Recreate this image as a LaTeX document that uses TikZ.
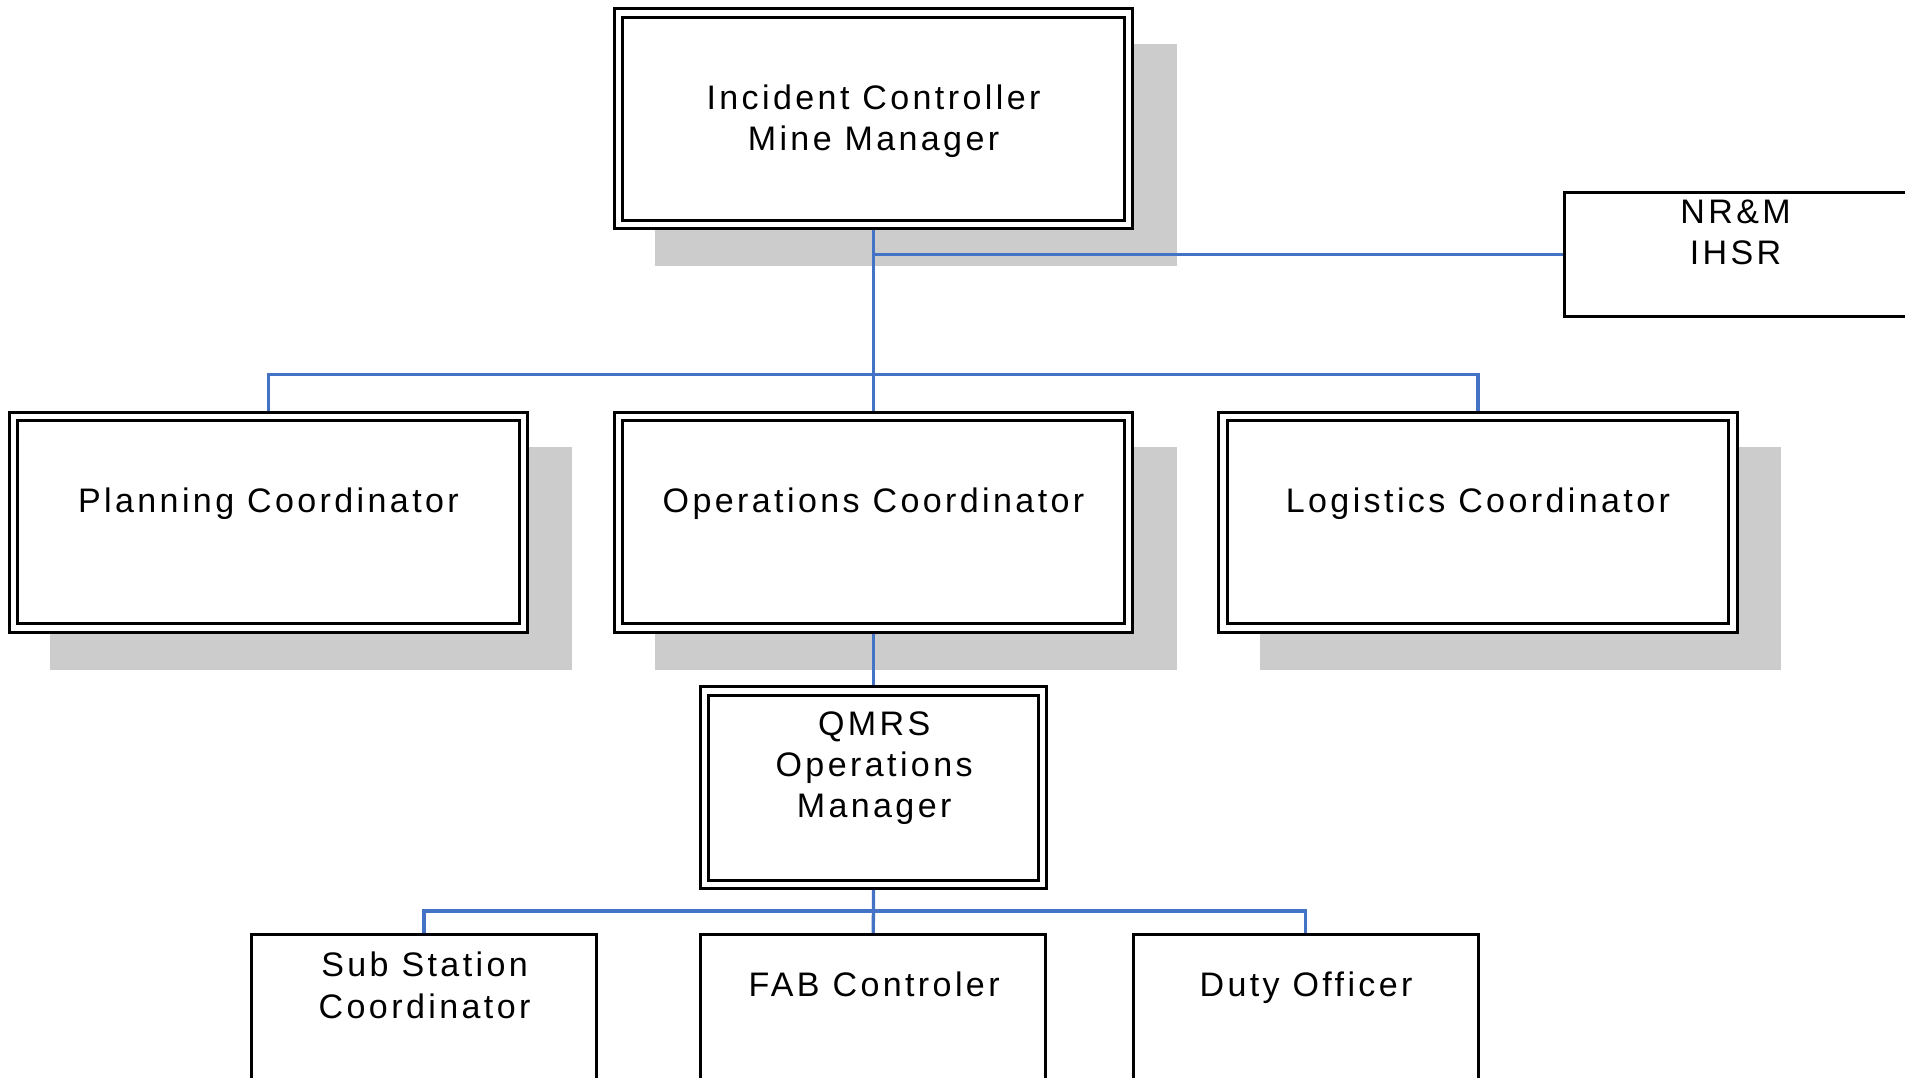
\documentclass[tikz,border=0pt]{standalone}
\usepackage{fontspec}
\setmainfont{Liberation Sans}[LetterSpace=10]
\pgfdeclarelayer{shadowlayer}
\pgfdeclarelayer{linelayer}
\pgfsetlayers{shadowlayer,linelayer,main}
\definecolor{connblue}{HTML}{4472C4}
\definecolor{shadowgray}{HTML}{CCCCCC}
\begin{document}
\begin{tikzpicture}[x=1pt,y=-1pt,
  dbox/.style={draw=black,fill=white,line width=2.5pt,double=white,double distance=4.4pt,outer sep=0pt,inner sep=0pt},
  sbox/.style={draw=black,fill=white,line width=2.5pt,outer sep=0pt,inner sep=0pt},
  conn/.style={draw=connblue,line width=2.7pt},
  lbl/.style={anchor=base,inner sep=0pt,font=\fontsize{28}{34}\selectfont}]
\useasboundingbox (0,0) rectangle (1568,886.5);

% boxes
\node[dbox,minimum width=420pt,minimum height=174pt] (ic) at (719,97.8) {};
\node[sbox,minimum width=282pt,minimum height=102pt] (nr) at (1428.5,209.2) {};
\node[dbox,minimum width=420pt,minimum height=174pt] (pc) at (221,429.8) {};
\node[dbox,minimum width=420pt,minimum height=174pt] (oc) at (719,429.8) {};
\node[dbox,minimum width=420pt,minimum height=174pt] (lc) at (1216.5,429.8) {};
\node[dbox,minimum width=278pt,minimum height=159pt] (qm) at (719,648.3) {};
\node[sbox,minimum width=284pt,minimum height=200pt] (sub) at (349,868.8) {};
\node[sbox,minimum width=284pt,minimum height=200pt] (fab) at (718.8,868.8) {};
\node[sbox,minimum width=284pt,minimum height=200pt] (duty) at (1074.7,868.8) {};

% shadows
\begin{pgfonlayer}{shadowlayer}
\foreach \n in {ic,pc,oc,lc}
  \fill[shadowgray] ([xshift=30.5pt,yshift=-25.5pt]\n.north west) rectangle ([xshift=39.5pt,yshift=-34.5pt]\n.south east);
\end{pgfonlayer}

% connectors
\coordinate (j1) at (719,308.5);
\coordinate (j2) at (719,749.8);
\begin{pgfonlayer}{linelayer}
\draw[conn] (ic.south) -- (oc.north);
\draw[conn] (ic.south |- nr.west) -- (nr.west);
\draw[conn] (pc.north) |- (j1) -| (lc.north);
\draw[conn] (oc.south) -- (qm.north);
\draw[conn] (qm.south) -- (fab.north);
\draw[conn] (sub.north) |- (j2) -| (duty.north);
\end{pgfonlayer}

% labels
\node[lbl] (ic1) at (719,90) {Incident Controller};
\node[lbl] (ic2) at (719,123.5) {Mine Manager};
\node[lbl] (nr1) at (1428.5,184) {NR\&M};
\node[lbl] (nr2) at (1428.5,218) {IHSR};
\node[lbl] (pc1) at (221,421.7) {Planning Coordinator};
\node[lbl] (oc1) at (719,421.7) {Operations Coordinator};
\node[lbl] (lc1) at (1216.5,421.7) {Logistics Coordinator};
\node[lbl] (qm1) at (719.5,605) {QMRS};
\node[lbl] (qm2) at (719.5,639) {Operations};
\node[lbl] (qm3) at (719.5,673) {Manager};
\node[lbl] (sub1) at (349.5,804) {Sub Station};
\node[lbl] (sub2) at (349.5,838) {Coordinator};
\node[lbl] (fab1) at (719.5,820.4) {FAB Controler};
\node[lbl] (duty1) at (1075,820.4) {Duty Officer};
\end{tikzpicture}
\end{document}
